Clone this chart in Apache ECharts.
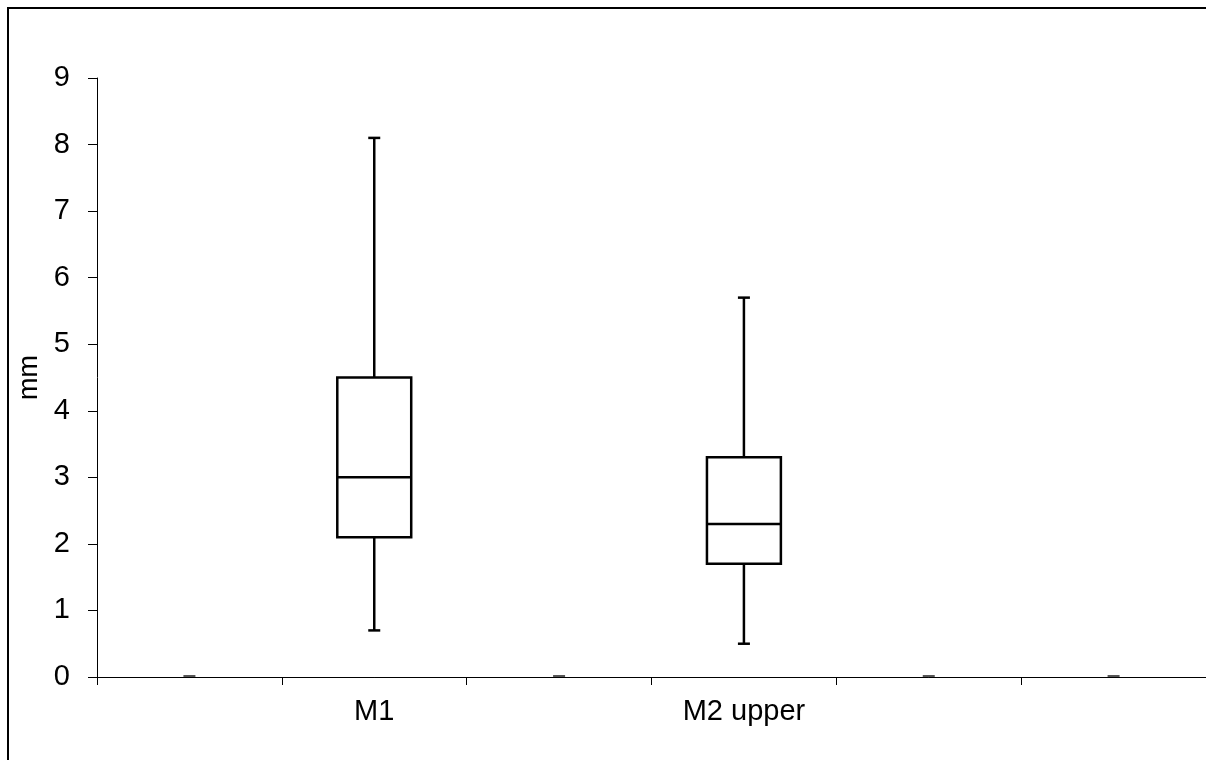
<!DOCTYPE html>
<html>
<head>
<meta charset="utf-8">
<script src="https://cdn.jsdelivr.net/npm/echarts@6/dist/echarts.min.js"></script>
<style>
html,body{margin:0;padding:0;background:#fff;}
#chart{width:1206px;height:760px;}
</style>
</head>
<body>
<div id="chart"></div>
<script>
var categories = ['', 'M1', '', 'M2 upper', '', ''];
var minVals    = [0, 0.7, 0, 0.5, 0, 0];
var q1Vals     = [0, 2.1, 0, 1.7, 0, 0];
var medianVals = [0, 3.0, 0, 2.3, 0, 0];
var q3Vals     = [0, 4.5, 0, 3.3, 0, 0];
var maxVals    = [0, 8.1, 0, 5.7, 0, 0];
var yTicks = [0, 1, 2, 3, 4, 5, 6, 7, 8, 9];

var seriesData = categories.map(function (c, i) {
  return [i, minVals[i], q1Vals[i], medianVals[i], q3Vals[i], maxVals[i]];
});

var FONT = '"Liberation Sans", Arial, sans-serif';

function renderItem(params, api) {
  var idx = api.value(0);
  var vMin = api.value(1), vQ1 = api.value(2), vMed = api.value(3), vQ3 = api.value(4), vMax = api.value(5);
  var catW = api.size([1, 0])[0];
  var boxW = catW * 0.4;
  var capW = 12;
  var pMin = api.coord([idx, vMin]);
  var pQ1 = api.coord([idx, vQ1]);
  var pMed = api.coord([idx, vMed]);
  var pQ3 = api.coord([idx, vQ3]);
  var pMax = api.coord([idx, vMax]);
  var cx = pMin[0];
  var children = [];
  if (vMax === vMin) {
    children.push({
      type: 'line',
      shape: { x1: cx - capW / 2, y1: pMin[1] - 1, x2: cx + capW / 2, y2: pMin[1] - 1 },
      style: { stroke: '#555', lineWidth: 2 }
    });
    return { type: 'group', children: children };
  }
  var st = { stroke: '#000', lineWidth: 2.5, fill: null };
  children.push({ type: 'line', shape: { x1: cx, y1: pMax[1], x2: cx, y2: pQ3[1] }, style: st });
  children.push({ type: 'line', shape: { x1: cx, y1: pQ1[1], x2: cx, y2: pMin[1] }, style: st });
  children.push({ type: 'line', shape: { x1: cx - capW / 2, y1: pMax[1], x2: cx + capW / 2, y2: pMax[1] }, style: st });
  children.push({ type: 'line', shape: { x1: cx - capW / 2, y1: pMin[1], x2: cx + capW / 2, y2: pMin[1] }, style: st });
  children.push({ type: 'rect', shape: { x: cx - boxW / 2, y: pQ3[1], width: boxW, height: pQ1[1] - pQ3[1] },
    style: { stroke: '#000', lineWidth: 2.5, fill: '#fff' } });
  children.push({ type: 'line', shape: { x1: cx - boxW / 2, y1: pMed[1], x2: cx + boxW / 2, y2: pMed[1] }, style: st });
  return { type: 'group', children: children };
}

var chart = echarts.init(document.getElementById('chart'), null, { renderer: 'canvas' });
chart.setOption({
  backgroundColor: '#fff',
  animation: false,
  graphic: [{
    type: 'rect',
    shape: { x: 8, y: 8, width: 1220, height: 780 },
    style: { stroke: '#000', lineWidth: 2, fill: null },
    silent: true, z: 100
  }],
  grid: { left: 97, top: 78, width: 1110, bottom: 83, containLabel: false },
  xAxis: {
    type: 'category',
    data: categories,
    boundaryGap: true,
    axisLine: { lineStyle: { color: '#000', width: 1 } },
    axisTick: { show: true, length: 8, inside: false, lineStyle: { color: '#000', width: 1 } },
    axisLabel: { color: '#000', fontSize: 29, fontFamily: FONT, margin: 20, interval: 0 },
    splitLine: { show: false }
  },
  yAxis: {
    type: 'value',
    min: yTicks[0],
    max: yTicks[yTicks.length - 1],
    interval: 1,
    name: 'mm',
    nameLocation: 'middle',
    nameGap: 54,
    nameRotate: 90,
    nameTextStyle: { color: '#000', fontSize: 27, fontFamily: FONT },
    axisLine: { show: true, lineStyle: { color: '#000', width: 1 } },
    axisTick: { show: true, length: 9, inside: false, lineStyle: { color: '#000', width: 1 } },
    axisLabel: { color: '#000', fontSize: 29, fontFamily: FONT, margin: 27 },
    splitLine: { show: false }
  },
  series: [{
    type: 'custom',
    renderItem: renderItem,
    data: seriesData,
    encode: { x: 0, y: [1, 2, 3, 4, 5] },
    z: 5
  }]
});
</script>
</body>
</html>
